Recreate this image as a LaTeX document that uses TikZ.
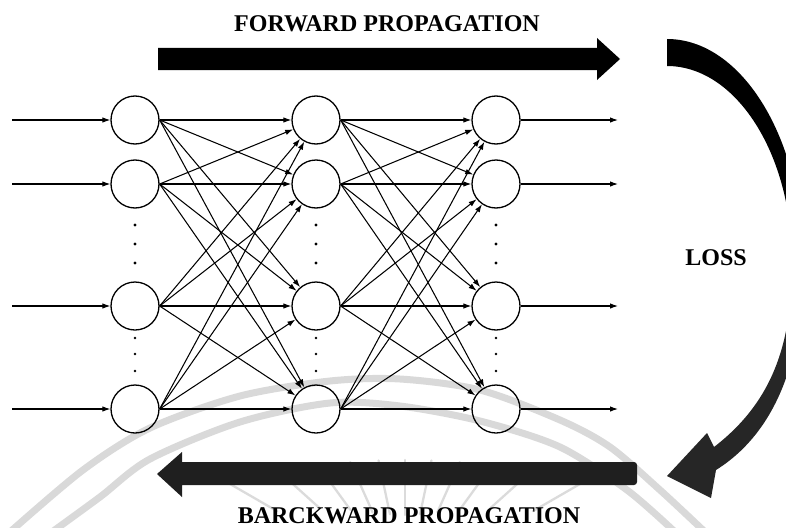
\documentclass[tikz,border=0pt]{standalone}
\usepackage{fontspec}
\setmainfont{Liberation Serif}
\usetikzlibrary{arrows.meta}
\begin{document}
\begin{tikzpicture}[x=1pt,y=-1pt,
  neuron/.style={circle,draw,line width=1.3pt,minimum size=48pt,inner sep=0pt},
  conn/.style={line width=1.05pt,-{Latex[length=8pt,width=5.5pt]}},
  lbl/.style={anchor=base,inner sep=0pt,font=\fontsize{24}{24}\selectfont\bfseries},
  wm/.style={line width=7pt,color=black!15},
  ray/.style={line width=2.3pt,color=black!14,line cap=round},
  dotm/.style={fill=black}]
\useasboundingbox (0,0) rectangle (786,527);
% faint watermark
\draw[wm] plot[smooth] coordinates {(10,532) (83,470) (150,428) (240,396) (330,381) (400,379) (480,390) (560,420) (610,447) (660,490) (705,532)};
\draw[wm] plot[smooth] coordinates {(52,532) (100,497) (150,459) (240,422) (330,403) (400,406) (480,421) (560,447) (627,490) (675,532)};
\foreach \a in {30,42,...,150}{
  \pgfmathsetmacro\R{100*3.75/sqrt((1.25*cos(\a))^2+(3*sin(\a))^2)}
  \draw[ray] ({405+\R*cos(\a)},{585-\R*sin(\a)}) -- ({405+(\R-55)*cos(\a)},{585-(\R-55)*sin(\a)});
}
% neurons
\foreach \r/\y in {1/120,2/184,3/306,4/409}{
  \node[neuron] (a\r) at (135,\y) {};
  \node[neuron] (b\r) at (316,\y) {};
  \node[neuron] (c\r) at (496,\y) {};
  \coordinate (in\r) at (12,\y);
  \coordinate (out\r) at (618,\y);
}
% connections
\foreach \i in {1,...,4}{
  \draw[conn] (in\i) -- (a\i);
  \draw[conn] (c\i.east) -- (out\i);
  \foreach \j in {1,...,4}{
    \draw[conn] (a\i.east) -- (b\j);
    \draw[conn] (b\i.east) -- (c\j);
  }
}
% dots
\foreach \x in {135,316,496}{
  \foreach \y in {225,244,263}{\fill (\x,\y) circle[radius=1.7pt];}
  \foreach \y in {338,354,371}{\fill (\x,\y) circle[radius=1.3pt];}
}
% forward arrow
\fill (158,48) -- (597,48) -- (597,38) -- (620,59) -- (597,80) -- (597,70) -- (158,70) -- cycle;
\node[lbl] (fwd) at (387,32) {FORWARD PROPAGATION};
% backward arrow
\fill[black!88] (182,462) [rounded corners=3pt] -- (637,462) -- (637,485) [sharp corners] -- (182,485) -- (182,497) -- (157,474) -- (182,452) -- cycle;
\node[lbl] (bwd) at (409,523) {BARCKWARD PROPAGATION};
% loss curve
\fill (667,39) .. controls (742,39) and (803,139) .. (803,262) -- (792,262) .. controls (792,154) and (736,66) .. (667,66) -- cycle;
\fill[black!85] (792,262) .. controls (792,340) and (775,400) .. (714,447) -- (707,433) -- (667,476) -- (711,498) -- (716,470) .. controls (780,430) and (804,350) .. (803,262) -- cycle;
\node[lbl] (loss) at (716,265) {LOSS};
\end{tikzpicture}
\end{document}
